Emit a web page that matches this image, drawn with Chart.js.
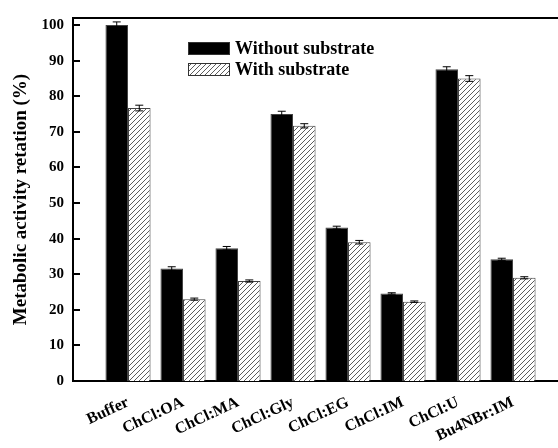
<!DOCTYPE html>
<html>
<head>
<meta charset="utf-8">
<script src="https://cdn.jsdelivr.net/npm/chart.js@4.4.0/dist/chart.umd.min.js"></script>
<style>
  html, body { margin: 0; padding: 0; background: #fff; }
  #wrap { width: 558px; height: 448px; }
</style>
</head>
<body>
<div id="wrap"><canvas id="chart"></canvas></div>
<script>
// Data
const categories = ["Buffer", "ChCl:OA", "ChCl:MA", "ChCl:Gly", "ChCl:EG", "ChCl:IM", "ChCl:U", "Bu4NBr:IM"];
const withoutSubstrate = [100.0, 31.6, 37.3, 75.0, 43.1, 24.6, 87.6, 34.2];
const withoutErr = [0.9, 0.5, 0.5, 0.8, 0.4, 0.2, 0.7, 0.3];
const withSubstrate = [76.7, 23.0, 28.1, 71.7, 39.0, 22.3, 85.0, 29.0];
const withErr = [0.8, 0.3, 0.3, 0.6, 0.5, 0.2, 0.8, 0.3];
const yTicks = [0, 10, 20, 30, 40, 50, 60, 70, 80, 90, 100];

const serif = "'Liberation Serif', 'Times New Roman', serif";
const canvas = document.getElementById("chart");
const ctx = canvas.getContext("2d");

// Diagonal hatch fill for the "with substrate" bars
function makeHatch() {
    const tile = document.createElement("canvas");
    tile.width = 5;
    tile.height = 5;
    const g = tile.getContext("2d");
    g.fillStyle = "#fff";
    g.fillRect(0, 0, 5, 5);
    g.strokeStyle = "#333";
    g.lineWidth = 0.8;
    g.beginPath();
    g.moveTo(0, 5); g.lineTo(5, 0);
    g.moveTo(-1, 1); g.lineTo(1, -1);
    g.moveTo(4, 6); g.lineTo(6, 4);
    g.stroke();
    return ctx.createPattern(tile, "repeat");
}
const hatch = makeHatch();

const toPoints = arr => arr.map((v, i) => ({ x: i, y: v }));

// Frame, inward ticks, error bars and legend
const extras = {
    id: "extras",
    afterDatasetsDraw(chart) {
        const c = chart.ctx;
        const y = chart.scales.y;
        const errs = [withoutErr, withErr];
        c.save();
        c.strokeStyle = "#000";
        c.lineWidth = 1;
        chart.data.datasets.forEach((ds, di) => {
            chart.getDatasetMeta(di).data.forEach((bar, i) => {
                const v = ds.data[i].y;
                const top = y.getPixelForValue(v + errs[di][i]);
                const bot = y.getPixelForValue(v - errs[di][i]);
                c.beginPath();
                c.moveTo(bar.x, top); c.lineTo(bar.x, bot);
                c.moveTo(bar.x - 4, top); c.lineTo(bar.x + 4, top);
                c.moveTo(bar.x - 4, bot); c.lineTo(bar.x + 4, bot);
                c.stroke();
            });
        });
        c.restore();
    },
    afterDraw(chart) {
        const c = chart.ctx;
        const a = chart.chartArea;
        const y = chart.scales.y;
        c.save();
        c.strokeStyle = "#000";
        c.lineWidth = 2;
        c.beginPath();
        c.moveTo(a.left - 1, a.top);
        c.lineTo(a.right, a.top);
        c.stroke();
        yTicks.forEach(v => {
            const py = Math.round(y.getPixelForValue(v));
            c.beginPath();
            c.moveTo(a.left, py);
            c.lineTo(a.left + 7, py);
            c.stroke();
        });

        // legend
        const items = chart.data.datasets;
        const bx = 188, by = [42, 63];
        items.forEach((ds, i) => {
            c.fillStyle = ds.backgroundColor;
            c.fillRect(bx, by[i], 42, 13);
            c.lineWidth = 1;
            c.strokeStyle = "#333";
            c.strokeRect(bx + 0.5, by[i] + 0.5, 41, 12);
            c.fillStyle = "#000";
            c.font = "bold 18px " + serif;
            c.textBaseline = "middle";
            c.fillText(ds.label, bx + 47, by[i] + 7);
        });
        c.restore();
    }
};

new Chart(canvas, {
    type: "bar",
    data: {
        datasets: [
            {
                label: "Without substrate",
                data: toPoints(withoutSubstrate),
                backgroundColor: "#000",
                borderColor: "#444",
                borderWidth: 1
            },
            {
                label: "With substrate",
                data: toPoints(withSubstrate),
                backgroundColor: hatch,
                borderColor: "#444",
                borderWidth: 1
            }
        ]
    },
    options: {
        responsive: true,
        maintainAspectRatio: false,
        animation: false,
        layout: { padding: { top: 15, right: 0, bottom: 0, left: 0 } },
        datasets: { bar: { barPercentage: 1, categoryPercentage: 0.82 } },
        plugins: {
            legend: { display: false },
            tooltip: { enabled: false }
        },
        scales: {
            x: {
                type: "linear",
                min: -1,
                max: 7.818,
                offset: false,
                grid: { display: false, drawTicks: false },
                border: { display: true, color: "#000", width: 2 },
                afterBuildTicks: s => { s.ticks = categories.map((_, i) => ({ value: i })); },
                afterFit: s => { s.height = 67; },
                ticks: {
                    autoSkip: false,
                    minRotation: 25,
                    maxRotation: 25,
                    padding: 12,
                    color: "#000",
                    font: { family: serif, size: 16, weight: "bold" },
                    callback: v => categories[v] ?? ""
                }
            },
            y: {
                min: 0,
                max: 102,
                grid: { display: false, drawTicks: false },
                border: { display: true, color: "#000", width: 2 },
                afterBuildTicks: s => { s.ticks = yTicks.map(v => ({ value: v })); },
                afterFit: s => { s.width = 73; },
                ticks: {
                    padding: 9,
                    color: "#000",
                    font: { family: serif, size: 15, weight: "bold" }
                },
                title: {
                    display: true,
                    text: "Metabolic activity retation (%)",
                    color: "#000",
                    font: { family: serif, size: 19, weight: "bold" },
                    padding: { top: 10, bottom: 4 }
                }
            }
        }
    },
    plugins: [extras]
});
</script>
</body>
</html>
